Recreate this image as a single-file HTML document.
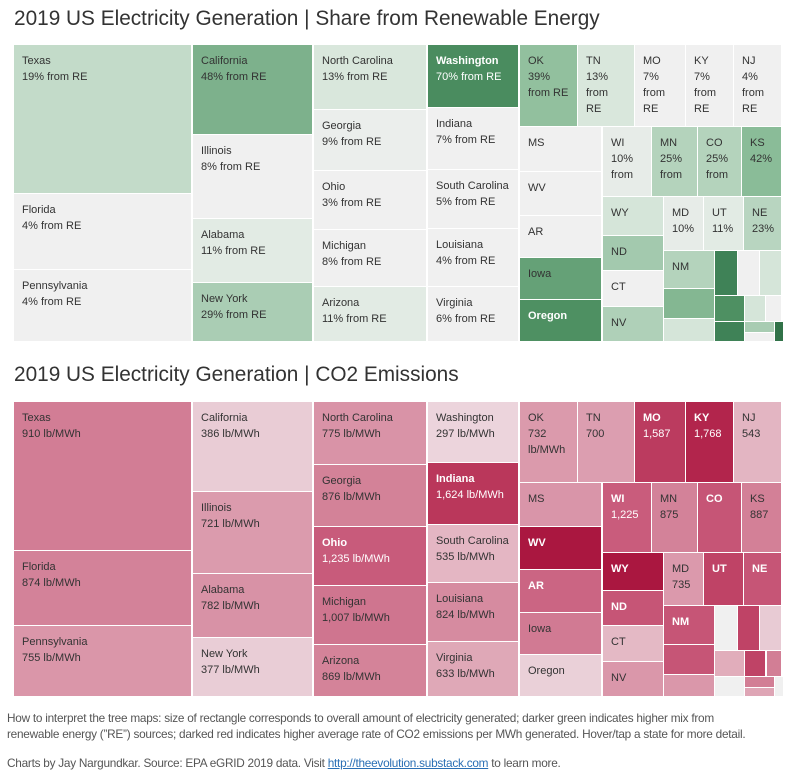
<!DOCTYPE html>
<html><head><meta charset="utf-8">
<style>
body{margin:0;width:794px;height:775px;background:#fff;position:relative;overflow:hidden;font-family:"Liberation Sans",sans-serif;}
.title{position:absolute;left:14px;font-size:20.8px;color:#333;white-space:nowrap;}
.cell{position:absolute;box-sizing:border-box;overflow:hidden;font-size:11px;line-height:16px;padding:8px 0 0 8px;color:#333;}
.cell b{font-weight:bold;}
.foot{position:absolute;left:7px;font-size:11.8px;color:#555;white-space:nowrap;letter-spacing:-0.25px;}
.foot a{color:#2a6fb5;text-decoration:underline;}
</style></head><body>
<div class="title" style="top:7px">2019 US Electricity Generation | Share from Renewable Energy</div>
<div class="title" style="top:363px">2019 US Electricity Generation | CO2 Emissions</div>
<div id="top"></div>
<div id="bot"></div>
<div class="foot" style="top:711px">How to interpret the tree maps: size of rectangle corresponds to overall amount of electricity generated; darker green indicates higher mix from</div>
<div class="foot" style="top:727px">renewable energy (”RE”) sources; darked red indicates higher average rate of CO2 emissions per MWh generated. Hover/tap a state for more detail.</div>
<div class="foot" style="top:756px">Charts by Jay Nargundkar. Source: EPA eGRID 2019 data. Visit <a>http://theevolution.substack.com</a> to learn more.</div>
<script>
// Renewable treemap data
const topNames=["Texas","Florida","Pennsylvania","California","Illinois","Alabama","New York","North Carolina","Georgia","Ohio","Michigan","Arizona","Washington","Indiana","South Carolina","Louisiana","Virginia","OK","TN","MO","KY","NJ","MS","WV","AR","Iowa","Oregon","WI","MN","CO","KS","WY","ND","CT","NV","MD","UT","NE","NM","","","","","","","","","","","",""];
const topValues=[19,4,4,48,8,11,29,13,9,3,8,11,70,7,5,4,6,39,13,7,7,4,3,5,8,58,68,10,25,25,42,14,32,5,27,10,11,23,25,45,14,75,3,14,68,14,3,75,30,3,85];
const topLabelStyle=["full","full","full","full","full","full","full","full","full","full","full","full","full","full","full","full","full","wrap2","wrap3","wrap3","wrap3","wrap3","none","none","none","none","none","wrap1","wrap1","wrap1","pct","none","none","none","none","pct","pct","pct","none"];
const topRects=[[14,45,192,194],[14,194,192,270],[14,270,192,342],[193,45,313,135],[193,135,313,219],[193,219,313,283],[193,283,313,342],[314,45,427,110],[314,110,427,171],[314,171,427,230],[314,230,427,287],[314,287,427,342],[428,45,519,108],[428,108,519,170],[428,170,519,229],[428,229,519,287],[428,287,519,342],[520,45,578,127],[578,45,635,127],[635,45,686,127],[686,45,734,127],[734,45,782,127],[520,127,602,172],[520,172,602,216],[520,216,602,258],[520,258,602,300],[520,300,602,342],[603,127,652,197],[652,127,698,197],[698,127,742,197],[742,127,782,197],[603,197,664,236],[603,236,664,271],[603,271,664,307],[603,307,664,342],[664,197,704,251],[704,197,744,251],[744,197,782,251],[664,251,715,289],[664,289,715,319],[664,319,715,342],[715,251,738,296],[738,251,760,296],[760,251,782,296],[715,296,745,322],[745,296,766,322],[766,296,782,322],[715,322,745,342],[745,322,775,333],[745,333,775,342],[775,322,782,342]];
// CO2 treemap data
const botNames=["Texas","Florida","Pennsylvania","California","Illinois","Alabama","New York","North Carolina","Georgia","Ohio","Michigan","Arizona","Washington","Indiana","South Carolina","Louisiana","Virginia","OK","TN","MO","KY","NJ","MS","WV","AR","Iowa","Oregon","WI","MN","CO","KS","WY","ND","CT","NV","MD","UT","NE","NM","","","","","","","","","","","",""];
const botValues=[910,874,755,386,721,782,377,775,876,1235,1007,869,297,1624,535,824,633,732,700,1587,1768,543,760,1950,1150,950,350,1225,875,1300,887,1950,1300,520,750,735,1500,1300,1300,1300,750,0,1500,400,600,1500,900,0,900,650,0];
const botLabelStyle=["lb","lb","lb","lb","lb","lb","lb","lb","lb","lb","lb","lb","lb","lb","lb","lb","lb","lb2","num","num","num","num","none","none","none","none","none","num","num","none","num","none","none","none","none","num","none","none","none"];
const botRects=[[14,402,192,551],[14,551,192,626],[14,626,192,697],[193,402,313,492],[193,492,313,574],[193,574,313,638],[193,638,313,697],[314,402,427,465],[314,465,427,527],[314,527,427,586],[314,586,427,645],[314,645,427,697],[428,402,519,463],[428,463,519,525],[428,525,519,583],[428,583,519,642],[428,642,519,697],[520,402,578,483],[578,402,635,483],[635,402,686,483],[686,402,734,483],[734,402,782,483],[520,483,602,527],[520,527,602,570],[520,570,602,613],[520,613,602,655],[520,655,602,697],[603,483,652,553],[652,483,698,553],[698,483,742,553],[742,483,782,553],[603,553,664,591],[603,591,664,626],[603,626,664,662],[603,662,664,697],[664,553,704,606],[704,553,744,606],[744,553,782,606],[664,606,715,645],[664,645,715,675],[664,675,715,697],[715,606,738,651],[738,606,760,651],[760,606,782,651],[715,651,745,677],[745,651,766,677],[767,651,782,677],[715,677,745,697],[745,677,775,688],[745,688,775,697],[775,677,782,697]];

const greenStops=[[0,"#f0f0f0"],[8,"#f0f0f0"],[13,"#d9e7dc"],[20,"#bfd9c6"],[30,"#a8ccb2"],[40,"#8fbf9c"],[50,"#78ae88"],[66,"#529465"],[75,"#3f8257"],[90,"#2a6a40"]];
const redStops=[[0,"#f0f0f0"],[1,"#eed8df"],[300,"#ecd4dc"],[400,"#e8cbd4"],[550,"#e3b4c1"],[650,"#dea5b5"],[750,"#da97aa"],[900,"#d27e95"],[1000,"#cf7690"],[1250,"#c8597a"],[1600,"#bb3a5e"],[1800,"#b02149"],[2000,"#a8133d"]];
function hex(c){return [1,3,5].map(i=>parseInt(c.substr(i,2),16));}
function scale(stops,v){
  if(v<=stops[0][0])return stops[0][1];
  for(let i=1;i<stops.length;i++){if(v<=stops[i][0]){const a=hex(stops[i-1][1]),b=hex(stops[i][1]);const t=(v-stops[i-1][0])/(stops[i][0]-stops[i-1][0]);return "rgb("+a.map((x,k)=>Math.round(x+(b[k]-x)*t)).join(",")+")";}}
  return stops[stops.length-1][1];
}
function fmt(n){return n.toLocaleString("en-US");}
function slug(s){return s.toLowerCase().replace(/[^a-z0-9]+/g,"-");}
function build(host,names,values,styles,rects,stops,isRed){
  rects.forEach((r,i)=>{
    const el=document.createElement("div");
    el.className="cell";
    
    
    el.style.left=r[0]+"px";el.style.top=r[1]+"px";
    el.style.width=(r[2]-r[0])+"px";el.style.height=(r[3]-r[1])+"px";
    el.style.background=scale(stops,values[i]);
    el.style.borderRight="1px solid #fff";el.style.borderBottom="1px solid #fff";
    const dark=isRed?values[i]>=1150:values[i]>=60;
    if(dark)el.style.color="#fff";
    const v=values[i],st=styles[i]||"none",n=names[i]||"";
    let lines=[];
    if(!n){lines=[];}
    else if(!isRed){
      if(st==="full")lines=[n,v+"% from RE"];
      else if(st==="wrap2")lines=[n,v+"%","from RE"];
      else if(st==="wrap3")lines=[n,v+"%","from","RE"];
      else if(st==="wrap1")lines=[n,v+"%","from"];
      else if(st==="pct")lines=[n,v+"%"];
      else lines=[n];
    }else{
      if(st==="lb")lines=[n,fmt(v)+" lb/MWh"];
      else if(st==="lb2")lines=[n,fmt(v),"lb/MWh"];
      else if(st==="num")lines=[n,fmt(v)];
      else lines=[n];
    }
    el.innerHTML=lines.map((t,k)=>k===0&&dark?"<b>"+t+"</b>":t).join("<br>");
    host.appendChild(el);
  });
}
build(document.getElementById("top"),topNames,topValues,topLabelStyle,topRects,greenStops,false);
build(document.getElementById("bot"),botNames,botValues,botLabelStyle,botRects,redStops,true);
</script>
</body></html>
